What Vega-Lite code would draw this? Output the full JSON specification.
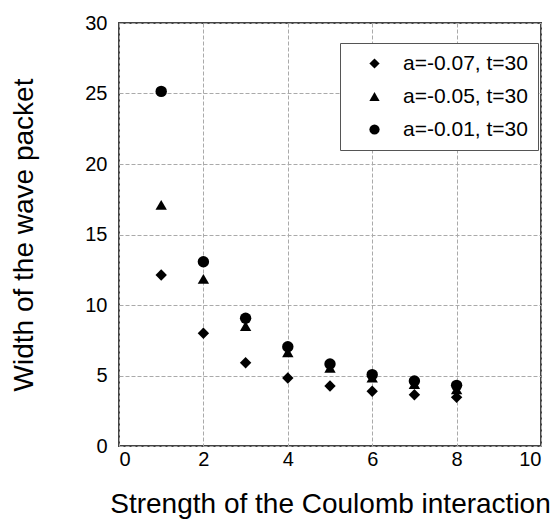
{
  "$schema": "https://vega.github.io/schema/vega-lite/v6.json",
  "width": 422,
  "height": 423,
  "autosize": {"type": "none"},
  "padding": {"left": 119, "top": 23, "right": 17, "bottom": 73},
  "background": "white",
  "config": {
    "font": "Liberation Sans",
    "view": {"stroke": "#444444", "strokeWidth": 2},
    "axis": {
      "domain": false,
      "ticks": false,
      "grid": true,
      "gridColor": "#aaaaaa",
      "gridDash": [4, 2],
      "gridWidth": 1,
      "labelFont": "Liberation Sans",
      "labelFontSize": 20,
      "labelColor": "#000000",
      "titleFont": "Liberation Sans",
      "titleFontSize": 28,
      "titleFontWeight": "normal",
      "titleColor": "#000000"
    }
  },
  "data": {
    "values": [
      {"coulomb": 1, "width": 12.13, "series": "a=-0.07, t=30"},
      {"coulomb": 2, "width": 8.0, "series": "a=-0.07, t=30"},
      {"coulomb": 3, "width": 5.9, "series": "a=-0.07, t=30"},
      {"coulomb": 4, "width": 4.82, "series": "a=-0.07, t=30"},
      {"coulomb": 5, "width": 4.26, "series": "a=-0.07, t=30"},
      {"coulomb": 6, "width": 3.88, "series": "a=-0.07, t=30"},
      {"coulomb": 7, "width": 3.64, "series": "a=-0.07, t=30"},
      {"coulomb": 8, "width": 3.45, "series": "a=-0.07, t=30"},
      {"coulomb": 1, "width": 17.1, "series": "a=-0.05, t=30"},
      {"coulomb": 2, "width": 11.85, "series": "a=-0.05, t=30"},
      {"coulomb": 3, "width": 8.5, "series": "a=-0.05, t=30"},
      {"coulomb": 4, "width": 6.65, "series": "a=-0.05, t=30"},
      {"coulomb": 5, "width": 5.55, "series": "a=-0.05, t=30"},
      {"coulomb": 6, "width": 4.85, "series": "a=-0.05, t=30"},
      {"coulomb": 7, "width": 4.4, "series": "a=-0.05, t=30"},
      {"coulomb": 8, "width": 4.02, "series": "a=-0.05, t=30"},
      {"coulomb": 1, "width": 25.15, "series": "a=-0.01, t=30"},
      {"coulomb": 2, "width": 13.07, "series": "a=-0.01, t=30"},
      {"coulomb": 3, "width": 9.06, "series": "a=-0.01, t=30"},
      {"coulomb": 4, "width": 7.04, "series": "a=-0.01, t=30"},
      {"coulomb": 5, "width": 5.82, "series": "a=-0.01, t=30"},
      {"coulomb": 6, "width": 5.06, "series": "a=-0.01, t=30"},
      {"coulomb": 7, "width": 4.61, "series": "a=-0.01, t=30"},
      {"coulomb": 8, "width": 4.3, "series": "a=-0.01, t=30"}
    ]
  },
  "mark": {"type": "point", "filled": true, "opacity": 1, "size": 130, "color": "#000000"},
  "encoding": {
    "x": {
      "field": "coulomb",
      "type": "quantitative",
      "scale": {"domain": [0, 10], "nice": false},
      "axis": {"values": [0, 2, 4, 6, 8, 10], "title": "Strength of the Coulomb interaction", "labelPadding": 3, "titlePadding": 21}
    },
    "y": {
      "field": "width",
      "type": "quantitative",
      "scale": {"domain": [0, 30], "nice": false},
      "axis": {"values": [0, 5, 10, 15, 20, 25, 30], "title": "Width of the wave packet", "labelPadding": 12, "titlePadding": 46}
    },
    "shape": {
      "field": "series",
      "type": "nominal",
      "sort": ["a=-0.07, t=30", "a=-0.05, t=30", "a=-0.01, t=30"],
      "scale": {"domain": ["a=-0.07, t=30", "a=-0.05, t=30", "a=-0.01, t=30"], "range": ["diamond", "triangle-up", "circle"]},
      "legend": {
        "title": null,
        "orient": "none",
        "legendX": 221,
        "legendY": 20,
        "fillColor": "white",
        "strokeColor": "#555555",
        "padding": 10,
        "symbolOffset": 14,
        "symbolSize": 105,
        "symbolFillColor": "#000000",
        "symbolStrokeColor": "#000000",
        "symbolOpacity": 1,
        "labelFontSize": 21,
        "labelFont": "Liberation Sans",
        "labelColor": "#000000",
        "labelOffset": 18,
        "rowPadding": 11
      }
    }
  }
}
